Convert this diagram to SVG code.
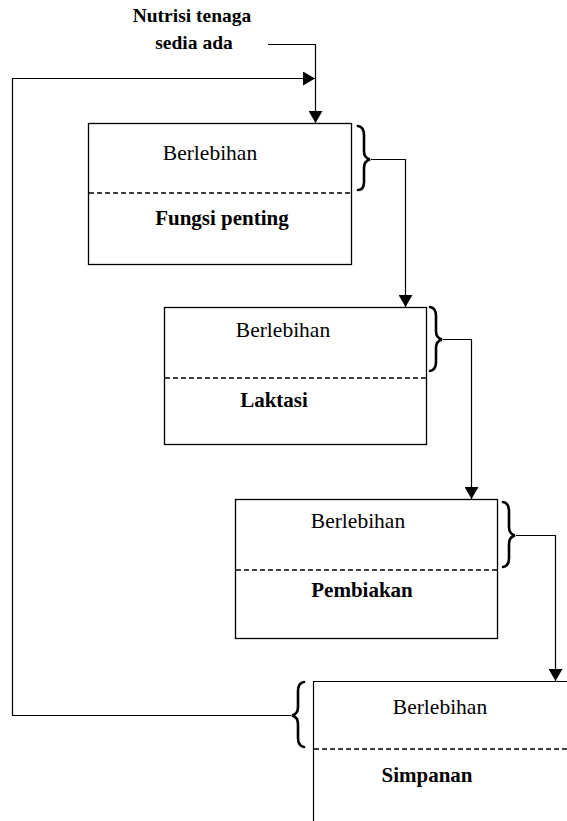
<svg xmlns="http://www.w3.org/2000/svg" width="567" height="821" viewBox="0 0 567 821">
<style>
.box{fill:#fff;stroke:#000;stroke-width:1.3}
.dash{stroke:#000;stroke-width:1.3;stroke-dasharray:5,3;fill:none}
.ln{stroke:#000;stroke-width:1.2;fill:none}
.brace{stroke:#000;stroke-width:2.6;fill:none;stroke-linecap:round}
.t{font-family:"Liberation Serif","Times New Roman",serif;font-size:21.5px;fill:#000;text-anchor:middle}
.b{font-weight:bold;font-size:21px}
.h{font-size:19.5px}
</style>
<defs>
<marker id="ahv" viewBox="0 0 12 14" refX="12" refY="7" markerWidth="12" markerHeight="14" markerUnits="userSpaceOnUse" orient="auto">
<path d="M0,0 L12,7 L0,14 z" fill="#000"/>
</marker>
</defs>
<g id="title"><text class="t b h" x="192" y="22">Nutrisi tenaga</text><text class="t b h" x="194" y="49">sedia ada</text></g>
<g id="node1">
<rect class="box" x="88.5" y="123.5" width="263" height="141"/>
<line class="dash" x1="89" y1="193" x2="351" y2="193"/>
<text class="t" x="210" y="160">Berlebihan</text>
<text class="t b" x="222" y="225">Fungsi penting</text>
</g>
<g id="node2">
<rect class="box" x="164.5" y="307.5" width="262" height="137"/>
<line class="dash" x1="165" y1="378" x2="426" y2="378"/>
<text class="t" x="283" y="337">Berlebihan</text>
<text class="t b" x="274" y="407">Laktasi</text>
</g>
<g id="node3">
<rect class="box" x="235.5" y="499.5" width="262" height="139"/>
<line class="dash" x1="236" y1="570" x2="497" y2="570"/>
<text class="t" x="358" y="528">Berlebihan</text>
<text class="t b" x="362" y="597">Pembiakan</text>
</g>
<g id="node4">
<path class="ln" d="M313.5,830 V681.5 H570" stroke-width="1.3"/>
<line class="dash" x1="314" y1="749" x2="567" y2="749"/>
<text class="t" x="440" y="714">Berlebihan</text>
<text class="t b" x="427" y="782">Simpanan</text>
</g>
<g id="connectors">
<path class="ln" d="M268,44.5 H315.5 V123" marker-end="url(#ahv)"/>
<path class="ln" d="M291,715.5 H12.5 V78.5 H315" marker-end="url(#ahv)"/>
<path class="ln" d="M371,159.5 H405.5 V307" marker-end="url(#ahv)"/>
<path class="ln" d="M443,339.5 H471.5 V499" marker-end="url(#ahv)"/>
<path class="ln" d="M516,535.5 H555.5 V681" marker-end="url(#ahv)"/>
<path class="brace" d="M358,126 Q364,127 364,135 L364,151 Q364,158 370,159.5 Q364,161 364,168 L364,182 Q364,190 358,190"/>
<path class="brace" d="M430,307 Q436,308 436,316 L436,331 Q436,338 442,339.5 Q436,341 436,348 L436,362 Q436,370 430,371"/>
<path class="brace" d="M503,502 Q509,503 509,511 L509,527 Q509,534 515,535.5 Q509,537 509,544 L509,558 Q509,566 503,567"/>
<path class="brace" d="M304,682 Q298,683 298,691 L298,707 Q298,714 292,715.5 Q298,717 298,724 L298,738 Q298,746 304,747"/>
</g>
</svg>
